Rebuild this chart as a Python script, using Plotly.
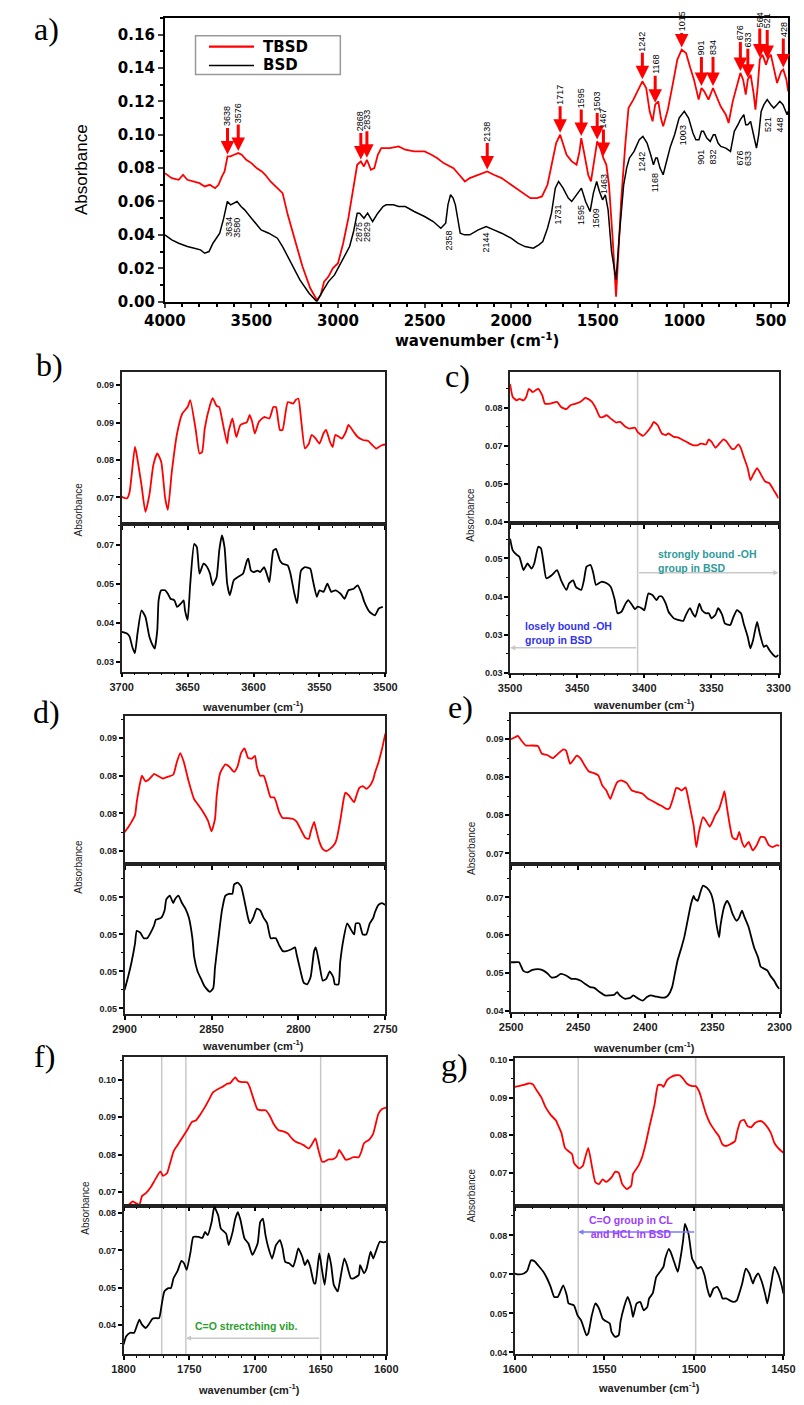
import numpy as np
import plotly.graph_objects as go

W, H = 804, 1405

# ---------------- panel a: full FTIR spectra ----------------
wn_tbsd = [4000, 3960, 3920, 3895, 3870, 3840, 3800, 3770, 3740, 3710,
           3690, 3670, 3655, 3638, 3620, 3600, 3576, 3556, 3530, 3500,
           3470, 3440, 3420, 3390, 3350, 3320, 3290, 3250, 3205, 3160,
           3122, 3100, 3080, 3055, 3030, 3000, 2970, 2940, 2910, 2889,
           2868, 2850, 2833, 2810, 2790, 2770, 2750, 2700, 2650, 2611,
           2560, 2500, 2460, 2428, 2390, 2333, 2300, 2267, 2239, 2190,
           2138, 2100, 2055, 2000, 1961, 1920, 1889, 1850, 1822, 1790,
           1760, 1740, 1717, 1700, 1680, 1650, 1622, 1605, 1595, 1580,
           1555, 1539, 1520, 1503, 1485, 1467, 1450, 1435, 1415, 1394,
           1380, 1365, 1340, 1322, 1294, 1270, 1242, 1220, 1200, 1183,
           1168, 1150, 1135, 1122, 1095, 1067, 1040, 1015, 990, 965,
           944, 917, 901, 885, 860, 834, 817, 790, 760, 744,
           720, 690, 676, 660, 645, 633, 617, 600, 589, 575,
           564, 550, 541, 528, 515, 500, 480, 464, 440, 428,
           410, 400]
abs_tbsd = [0.077, 0.074, 0.073, 0.076, 0.073, 0.072, 0.071, 0.069, 0.070, 0.068,
            0.070, 0.075, 0.078, 0.087, 0.087, 0.088, 0.089, 0.088, 0.085, 0.083,
            0.080, 0.078, 0.076, 0.072, 0.068, 0.065, 0.052, 0.038, 0.021, 0.008,
            0.001, 0.004, 0.012, 0.015, 0.020, 0.023, 0.035, 0.050, 0.068, 0.082,
            0.084, 0.081, 0.085, 0.079, 0.080, 0.088, 0.092, 0.092, 0.093, 0.091,
            0.090, 0.090, 0.088, 0.086, 0.083, 0.080, 0.076, 0.072, 0.074, 0.076,
            0.078, 0.076, 0.074, 0.070, 0.067, 0.064, 0.062, 0.062, 0.063, 0.070,
            0.086, 0.095, 0.100, 0.095, 0.088, 0.084, 0.082, 0.090, 0.098, 0.090,
            0.076, 0.072, 0.085, 0.096, 0.092, 0.086, 0.082, 0.070, 0.040, 0.003,
            0.030, 0.060, 0.095, 0.116, 0.121, 0.126, 0.132, 0.128, 0.114, 0.108,
            0.118, 0.120, 0.110, 0.105, 0.115, 0.130, 0.145, 0.151, 0.149, 0.140,
            0.133, 0.121, 0.128, 0.126, 0.121, 0.128, 0.124, 0.117, 0.112, 0.107,
            0.120, 0.132, 0.137, 0.133, 0.124, 0.133, 0.136, 0.125, 0.115, 0.130,
            0.145, 0.148, 0.146, 0.142, 0.146, 0.148, 0.138, 0.131, 0.138, 0.139,
            0.133, 0.126]

wn_bsd = [4000, 3960, 3920, 3870, 3830, 3794, 3770, 3745, 3722, 3700,
          3683, 3660, 3639, 3620, 3600, 3583, 3560, 3539, 3500, 3470,
          3444, 3400, 3370, 3350, 3320, 3290, 3261, 3220, 3167, 3122,
          3090, 3055, 3020, 2983, 2955, 2933, 2910, 2889, 2875, 2850,
          2829, 2800, 2770, 2740, 2722, 2680, 2650, 2611, 2560, 2500,
          2450, 2406, 2378, 2365, 2350, 2335, 2322, 2305, 2294, 2270,
          2239, 2190, 2144, 2100, 2055, 2000, 1961, 1920, 1872, 1840,
          1817, 1790, 1767, 1745, 1726, 1700, 1670, 1650, 1620, 1594,
          1570, 1544, 1525, 1506, 1490, 1472, 1456, 1440, 1420, 1394,
          1375, 1350, 1333, 1317, 1290, 1260, 1239, 1215, 1194, 1178,
          1165, 1156, 1140, 1122, 1100, 1080, 1056, 1030, 1000, 975,
          950, 933, 915, 901, 889, 870, 850, 832, 822, 805,
          789, 760, 733, 711, 690, 676, 656, 645, 633, 617,
          600, 583, 570, 556, 540, 521, 500, 483, 465, 448,
          430, 406, 400]
abs_bsd = [0.040, 0.037, 0.035, 0.033, 0.032, 0.031, 0.029, 0.030, 0.035, 0.038,
           0.041, 0.050, 0.060, 0.058, 0.059, 0.060, 0.057, 0.055, 0.050, 0.046,
           0.043, 0.041, 0.039, 0.038, 0.033, 0.027, 0.021, 0.013, 0.005, 0.000,
           0.006, 0.012, 0.016, 0.023, 0.028, 0.033, 0.042, 0.053, 0.053, 0.050,
           0.053, 0.048, 0.053, 0.057, 0.058, 0.058, 0.057, 0.057, 0.054, 0.051,
           0.048, 0.044, 0.047, 0.058, 0.064, 0.062, 0.058, 0.048, 0.041, 0.040,
           0.040, 0.043, 0.045, 0.043, 0.041, 0.038, 0.035, 0.033, 0.032, 0.034,
           0.036, 0.044, 0.053, 0.068, 0.072, 0.068, 0.062, 0.060, 0.064, 0.068,
           0.060, 0.054, 0.065, 0.072, 0.066, 0.061, 0.064, 0.055, 0.030, 0.013,
           0.040, 0.070, 0.080, 0.086, 0.090, 0.097, 0.099, 0.095, 0.088, 0.082,
           0.086, 0.086, 0.080, 0.076, 0.085, 0.093, 0.100, 0.110, 0.114, 0.110,
           0.101, 0.097, 0.097, 0.102, 0.102, 0.098, 0.096, 0.100, 0.100, 0.095,
           0.093, 0.092, 0.090, 0.102, 0.106, 0.109, 0.112, 0.106, 0.106, 0.108,
           0.100, 0.092, 0.100, 0.114, 0.118, 0.121, 0.118, 0.116, 0.118, 0.120,
           0.118, 0.112, 0.114]

tbsd_peaks = [3638, 3576, 2868, 2833, 2138, 1717, 1595, 1503, 1467, 1242,
              1168, 1015, 901, 834, 676, 633, 564, 521, 428]
bsd_peaks = [3634, 3580, 2875, 2829, 2358, 2144, 1731, 1595, 1509, 1463,
             1242, 1168, 1003, 901, 832, 676, 633, 521, 448]

# ---------------- panels b-g: zoomed regions ----------------
b_wn_red = [3700, 3696, 3694, 3690, 3689, 3685, 3682, 3679, 3676, 3673,
            3670, 3667, 3665, 3662, 3658, 3654, 3650, 3648, 3644, 3641,
            3639, 3637, 3633, 3631, 3628, 3626, 3624, 3620, 3619, 3616,
            3614, 3613, 3610, 3605, 3603, 3601, 3599, 3596, 3592, 3588,
            3585, 3583, 3580, 3578, 3574, 3570, 3568, 3566, 3564, 3561,
            3558, 3556, 3553, 3550, 3547, 3545, 3542, 3540, 3538, 3535,
            3533, 3530, 3528, 3524, 3521, 3517, 3513, 3510, 3507, 3505,
            3502, 3500]
b_abs_red = [0.0701, 0.0698, 0.0711, 0.0801, 0.0791, 0.0725, 0.0671, 0.0705, 0.0765, 0.0788,
             0.0771, 0.0698, 0.0675, 0.0751, 0.0828, 0.0868, 0.0881, 0.0895, 0.0838, 0.0788,
             0.0791, 0.0838, 0.0885, 0.0899, 0.0883, 0.0881, 0.0858, 0.0808, 0.0831, 0.0858,
             0.0831, 0.0821, 0.0845, 0.0851, 0.0865, 0.0851, 0.0828, 0.0851, 0.0861, 0.0858,
             0.0881, 0.0881, 0.0835, 0.0835, 0.0891, 0.0888, 0.0895, 0.0898, 0.0858, 0.0798,
             0.0808, 0.0825, 0.0818, 0.0808, 0.0828, 0.0835, 0.0811, 0.0801, 0.0825, 0.0821,
             0.0818, 0.0831, 0.0845, 0.0831, 0.0821, 0.0815, 0.0813, 0.0805, 0.0798, 0.0801,
             0.0805, 0.0806]
b_wn_blk = [3700, 3696, 3694, 3692, 3690, 3688, 3685, 3682, 3679, 3676,
            3675, 3673, 3672, 3670, 3667, 3665, 3663, 3660, 3658, 3655,
            3653, 3652, 3650, 3648, 3645, 3643, 3641, 3638, 3636, 3633,
            3631, 3628, 3626, 3624, 3622, 3620, 3618, 3615, 3612, 3608,
            3605, 3604, 3602, 3600, 3597, 3595, 3592, 3590, 3588, 3585,
            3583, 3580, 3578, 3574, 3572, 3569, 3567, 3564, 3561, 3557,
            3555, 3552, 3550, 3547, 3544, 3541, 3538, 3534, 3531, 3528,
            3524, 3521, 3518, 3516, 3512, 3508, 3505, 3502]
b_abs_blk = [0.0397, 0.0392, 0.0382, 0.0350, 0.0329, 0.0392, 0.0466, 0.0445, 0.0382, 0.0350,
             0.0344, 0.0403, 0.0498, 0.0530, 0.0530, 0.0519, 0.0503, 0.0498, 0.0477, 0.0488,
             0.0498, 0.0466, 0.0435, 0.0551, 0.0678, 0.0668, 0.0583, 0.0615, 0.0609, 0.0583,
             0.0546, 0.0572, 0.0657, 0.0705, 0.0668, 0.0551, 0.0514, 0.0562, 0.0572, 0.0583,
             0.0625, 0.0631, 0.0593, 0.0588, 0.0593, 0.0588, 0.0604, 0.0583, 0.0556, 0.0657,
             0.0662, 0.0625, 0.0615, 0.0609, 0.0583, 0.0519, 0.0488, 0.0593, 0.0604, 0.0599,
             0.0562, 0.0509, 0.0530, 0.0525, 0.0551, 0.0525, 0.0530, 0.0519, 0.0503, 0.0530,
             0.0535, 0.0546, 0.0519, 0.0493, 0.0461, 0.0450, 0.0472, 0.0477]

c_wn_red = [3500, 3498, 3495, 3493, 3490, 3488, 3486, 3483, 3481, 3479,
            3476, 3474, 3470, 3465, 3462, 3458, 3455, 3451, 3447, 3444,
            3442, 3439, 3436, 3433, 3431, 3428, 3425, 3421, 3418, 3414,
            3411, 3407, 3405, 3401, 3399, 3395, 3393, 3390, 3387, 3384,
            3382, 3378, 3375, 3371, 3368, 3364, 3360, 3358, 3354, 3352,
            3350, 3347, 3345, 3341, 3339, 3335, 3333, 3330, 3328, 3326,
            3323, 3321, 3319, 3316, 3313, 3310, 3307, 3303, 3300]
c_abs_red = [0.0854, 0.0811, 0.0800, 0.0805, 0.0800, 0.0811, 0.0838, 0.0827, 0.0833, 0.0838,
             0.0816, 0.0789, 0.0789, 0.0795, 0.0778, 0.0771, 0.0784, 0.0789, 0.0797, 0.0808,
             0.0805, 0.0795, 0.0773, 0.0745, 0.0745, 0.0751, 0.0740, 0.0727, 0.0729, 0.0713,
             0.0707, 0.0710, 0.0696, 0.0683, 0.0691, 0.0713, 0.0729, 0.0718, 0.0691, 0.0686,
             0.0691, 0.0680, 0.0678, 0.0669, 0.0662, 0.0653, 0.0653, 0.0658, 0.0655, 0.0672,
             0.0664, 0.0644, 0.0653, 0.0672, 0.0666, 0.0642, 0.0640, 0.0655, 0.0642, 0.0615,
             0.0577, 0.0538, 0.0555, 0.0577, 0.0555, 0.0533, 0.0528, 0.0500, 0.0478]
c_wn_blk = [3500, 3498, 3495, 3493, 3490, 3487, 3484, 3482, 3479, 3477,
            3475, 3473, 3469, 3465, 3462, 3458, 3456, 3453, 3451, 3447,
            3445, 3443, 3440, 3438, 3436, 3432, 3428, 3425, 3422, 3420,
            3417, 3414, 3412, 3409, 3407, 3405, 3402, 3400, 3397, 3394,
            3391, 3389, 3387, 3384, 3382, 3378, 3375, 3371, 3369, 3366,
            3364, 3362, 3359, 3357, 3354, 3352, 3350, 3347, 3345, 3342,
            3340, 3336, 3334, 3331, 3328, 3326, 3323, 3321, 3319, 3316,
            3314, 3311, 3309, 3307, 3304, 3302, 3300]
c_abs_blk = [0.0514, 0.0491, 0.0482, 0.0478, 0.0452, 0.0465, 0.0455, 0.0465, 0.0498, 0.0495,
             0.0465, 0.0436, 0.0442, 0.0452, 0.0432, 0.0413, 0.0426, 0.0432, 0.0419, 0.0413,
             0.0432, 0.0459, 0.0462, 0.0446, 0.0423, 0.0429, 0.0426, 0.0419, 0.0393, 0.0367,
             0.0370, 0.0386, 0.0393, 0.0383, 0.0375, 0.0380, 0.0377, 0.0373, 0.0406, 0.0403,
             0.0393, 0.0400, 0.0400, 0.0386, 0.0370, 0.0357, 0.0354, 0.0352, 0.0364, 0.0377,
             0.0367, 0.0360, 0.0386, 0.0373, 0.0367, 0.0367, 0.0357, 0.0364, 0.0377, 0.0364,
             0.0347, 0.0344, 0.0357, 0.0373, 0.0367, 0.0347, 0.0321, 0.0298, 0.0314, 0.0350,
             0.0327, 0.0301, 0.0304, 0.0295, 0.0285, 0.0281, 0.0285]

d_wn_red = [2900, 2898, 2896, 2894, 2893, 2891, 2890, 2888, 2886, 2884,
            2883, 2881, 2878, 2875, 2872, 2870, 2868, 2866, 2863, 2860,
            2858, 2855, 2852, 2850, 2848, 2847, 2845, 2842, 2840, 2837,
            2835, 2833, 2831, 2829, 2827, 2825, 2824, 2822, 2820, 2818,
            2816, 2814, 2813, 2811, 2809, 2806, 2803, 2801, 2799, 2796,
            2794, 2793, 2791, 2790, 2788, 2786, 2784, 2782, 2779, 2778,
            2776, 2774, 2773, 2771, 2768, 2767, 2765, 2763, 2761, 2759,
            2757, 2756, 2754, 2752, 2750]
d_abs_red = [0.0780, 0.0785, 0.0791, 0.0798, 0.0812, 0.0833, 0.0840, 0.0834, 0.0836, 0.0840,
             0.0842, 0.0840, 0.0837, 0.0839, 0.0841, 0.0854, 0.0864, 0.0855, 0.0833, 0.0815,
             0.0810, 0.0802, 0.0792, 0.0781, 0.0794, 0.0819, 0.0843, 0.0852, 0.0850, 0.0844,
             0.0850, 0.0864, 0.0869, 0.0859, 0.0858, 0.0861, 0.0850, 0.0840, 0.0840, 0.0829,
             0.0817, 0.0817, 0.0813, 0.0801, 0.0795, 0.0795, 0.0794, 0.0791, 0.0784, 0.0774,
             0.0773, 0.0780, 0.0791, 0.0784, 0.0770, 0.0762, 0.0760, 0.0762, 0.0768, 0.0773,
             0.0792, 0.0815, 0.0822, 0.0819, 0.0812, 0.0817, 0.0827, 0.0829, 0.0826, 0.0829,
             0.0836, 0.0843, 0.0854, 0.0868, 0.0885]
d_wn_blk = [2900, 2898, 2896, 2894, 2893, 2891, 2889, 2887, 2885, 2883,
            2882, 2879, 2877, 2876, 2874, 2872, 2871, 2869, 2867, 2865,
            2863, 2861, 2860, 2858, 2856, 2854, 2851, 2849, 2848, 2846,
            2844, 2842, 2840, 2838, 2837, 2835, 2833, 2831, 2829, 2828,
            2826, 2824, 2822, 2820, 2818, 2816, 2814, 2813, 2811, 2809,
            2807, 2804, 2802, 2801, 2799, 2797, 2795, 2793, 2791, 2790,
            2788, 2786, 2784, 2782, 2780, 2779, 2777, 2776, 2774, 2772,
            2770, 2768, 2767, 2765, 2763, 2761, 2759, 2757, 2756, 2754,
            2752, 2750]
d_abs_blk = [0.0490, 0.0497, 0.0505, 0.0515, 0.0522, 0.0521, 0.0518, 0.0518, 0.0521, 0.0525,
             0.0528, 0.0529, 0.0533, 0.0539, 0.0541, 0.0537, 0.0539, 0.0541, 0.0537, 0.0534,
             0.0529, 0.0518, 0.0508, 0.0500, 0.0496, 0.0492, 0.0489, 0.0491, 0.0502, 0.0518,
             0.0533, 0.0541, 0.0542, 0.0542, 0.0547, 0.0548, 0.0546, 0.0538, 0.0529, 0.0526,
             0.0529, 0.0534, 0.0533, 0.0529, 0.0526, 0.0518, 0.0518, 0.0518, 0.0514, 0.0511,
             0.0511, 0.0512, 0.0513, 0.0509, 0.0501, 0.0494, 0.0493, 0.0497, 0.0511, 0.0513,
             0.0504, 0.0495, 0.0496, 0.0500, 0.0497, 0.0493, 0.0493, 0.0505, 0.0518, 0.0526,
             0.0523, 0.0520, 0.0526, 0.0526, 0.0520, 0.0520, 0.0526, 0.0529, 0.0532, 0.0536,
             0.0537, 0.0536]

e_wn_red = [2500, 2497, 2495, 2492, 2489, 2485, 2480, 2477, 2473, 2469,
            2465, 2461, 2459, 2456, 2454, 2451, 2448, 2445, 2442, 2439,
            2435, 2432, 2429, 2426, 2424, 2421, 2418, 2414, 2410, 2407,
            2402, 2398, 2395, 2391, 2388, 2384, 2382, 2379, 2377, 2375,
            2373, 2370, 2369, 2367, 2364, 2362, 2360, 2357, 2355, 2352,
            2350, 2348, 2345, 2342, 2341, 2339, 2337, 2335, 2332, 2330,
            2328, 2326, 2323, 2320, 2317, 2314, 2311, 2308, 2305, 2302, 2300]
e_abs_red = [0.0880, 0.0883, 0.0885, 0.0877, 0.0870, 0.0870, 0.0869, 0.0857, 0.0855, 0.0850,
             0.0857, 0.0864, 0.0862, 0.0841, 0.0846, 0.0854, 0.0849, 0.0838, 0.0829, 0.0827,
             0.0823, 0.0807, 0.0799, 0.0786, 0.0797, 0.0812, 0.0815, 0.0811, 0.0799, 0.0797,
             0.0794, 0.0786, 0.0783, 0.0778, 0.0775, 0.0770, 0.0771, 0.0789, 0.0803, 0.0802,
             0.0799, 0.0804, 0.0797, 0.0776, 0.0744, 0.0710, 0.0734, 0.0757, 0.0752, 0.0742,
             0.0750, 0.0760, 0.0770, 0.0791, 0.0798, 0.0770, 0.0744, 0.0725, 0.0722, 0.0734,
             0.0718, 0.0710, 0.0718, 0.0705, 0.0713, 0.0726, 0.0725, 0.0713, 0.0710, 0.0713, 0.0712]
e_wn_blk = [2500, 2497, 2494, 2491, 2488, 2484, 2480, 2477, 2473, 2470,
            2466, 2463, 2459, 2455, 2452, 2448, 2445, 2441, 2438, 2434,
            2430, 2427, 2423, 2421, 2419, 2415, 2411, 2409, 2405, 2402,
            2399, 2396, 2392, 2389, 2385, 2383, 2380, 2378, 2376, 2373,
            2371, 2369, 2366, 2364, 2363, 2361, 2359, 2357, 2354, 2351,
            2349, 2347, 2345, 2344, 2341, 2339, 2337, 2335, 2332, 2330,
            2328, 2326, 2323, 2321, 2319, 2316, 2314, 2311, 2309, 2307,
            2304, 2302, 2300]
e_abs_blk = [0.0528, 0.0528, 0.0528, 0.0506, 0.0501, 0.0508, 0.0510, 0.0508, 0.0499, 0.0488,
             0.0490, 0.0497, 0.0493, 0.0484, 0.0484, 0.0479, 0.0471, 0.0462, 0.0460, 0.0449,
             0.0440, 0.0440, 0.0442, 0.0449, 0.0440, 0.0431, 0.0434, 0.0440, 0.0431, 0.0426,
             0.0435, 0.0440, 0.0437, 0.0435, 0.0435, 0.0440, 0.0462, 0.0497, 0.0532, 0.0568,
             0.0594, 0.0629, 0.0682, 0.0704, 0.0696, 0.0691, 0.0713, 0.0731, 0.0725, 0.0709,
             0.0682, 0.0629, 0.0594, 0.0625, 0.0678, 0.0691, 0.0678, 0.0656, 0.0638, 0.0647,
             0.0665, 0.0647, 0.0621, 0.0594, 0.0568, 0.0541, 0.0516, 0.0510, 0.0506, 0.0493,
             0.0479, 0.0466, 0.0457]

f_wn_red = [1800, 1796, 1793, 1791, 1788, 1786, 1783, 1779, 1776, 1772,
            1770, 1767, 1765, 1762, 1759, 1755, 1751, 1748, 1745, 1742,
            1738, 1734, 1732, 1728, 1725, 1721, 1719, 1715, 1713, 1710,
            1706, 1704, 1702, 1698, 1695, 1692, 1689, 1686, 1682, 1678,
            1675, 1672, 1669, 1666, 1663, 1659, 1657, 1654, 1652, 1649,
            1647, 1644, 1641, 1638, 1636, 1634, 1631, 1629, 1625, 1621,
            1619, 1617, 1613, 1610, 1608, 1606, 1603, 1600]
f_abs_red = [0.0658, 0.0666, 0.0675, 0.0671, 0.0666, 0.0689, 0.0697, 0.0715, 0.0733, 0.0755,
             0.0743, 0.0750, 0.0772, 0.0808, 0.0825, 0.0847, 0.0869, 0.0887, 0.0891, 0.0905,
             0.0927, 0.0953, 0.0966, 0.0975, 0.0980, 0.0989, 0.0990, 0.1006, 0.0997, 0.0993,
             0.0993, 0.0980, 0.0958, 0.0920, 0.0918, 0.0918, 0.0905, 0.0883, 0.0865, 0.0861,
             0.0856, 0.0843, 0.0834, 0.0830, 0.0825, 0.0816, 0.0825, 0.0843, 0.0816, 0.0781,
             0.0781, 0.0787, 0.0787, 0.0794, 0.0812, 0.0803, 0.0786, 0.0787, 0.0793, 0.0793,
             0.0808, 0.0830, 0.0840, 0.0856, 0.0883, 0.0909, 0.0922, 0.0925]
f_wn_blk = [1800, 1798, 1795, 1792, 1790, 1788, 1786, 1783, 1781, 1778,
            1776, 1773, 1771, 1769, 1766, 1764, 1762, 1759, 1756, 1754,
            1752, 1749, 1747, 1743, 1740, 1738, 1736, 1733, 1731, 1728,
            1726, 1722, 1720, 1717, 1715, 1713, 1711, 1708, 1705, 1702,
            1698, 1696, 1694, 1692, 1690, 1687, 1684, 1681, 1679, 1677,
            1674, 1671, 1669, 1667, 1664, 1662, 1660, 1658, 1655, 1654,
            1651, 1649, 1647, 1644, 1642, 1640, 1637, 1635, 1632, 1630,
            1627, 1625, 1621, 1620, 1617, 1615, 1612, 1610, 1608, 1605,
            1602, 1600]
f_abs_blk = [0.0336, 0.0363, 0.0375, 0.0375, 0.0397, 0.0419, 0.0402, 0.0391, 0.0402, 0.0422,
             0.0424, 0.0424, 0.0469, 0.0513, 0.0524, 0.0524, 0.0557, 0.0581, 0.0615, 0.0607,
             0.0585, 0.0646, 0.0695, 0.0695, 0.0692, 0.0712, 0.0701, 0.0745, 0.0795, 0.0767,
             0.0723, 0.0706, 0.0668, 0.0712, 0.0756, 0.0778, 0.0751, 0.0690, 0.0673, 0.0635,
             0.0673, 0.0745, 0.0756, 0.0701, 0.0662, 0.0623, 0.0668, 0.0684, 0.0657, 0.0612,
             0.0607, 0.0596, 0.0623, 0.0657, 0.0629, 0.0601, 0.0618, 0.0596, 0.0540, 0.0540,
             0.0640, 0.0585, 0.0535, 0.0640, 0.0601, 0.0535, 0.0513, 0.0557, 0.0623, 0.0601,
             0.0557, 0.0557, 0.0568, 0.0601, 0.0574, 0.0590, 0.0646, 0.0623, 0.0646, 0.0679,
             0.0677, 0.0679]

g_wn_red = [1600, 1598, 1595, 1592.5, 1590, 1588, 1585, 1583, 1580, 1577,
            1576, 1574, 1572, 1570, 1568, 1567, 1564, 1562, 1561, 1559,
            1557, 1555, 1553, 1551, 1549, 1546, 1544, 1542, 1540, 1537.5,
            1535, 1534, 1531, 1529, 1527, 1525, 1522, 1520, 1518, 1517,
            1515, 1512.5, 1510, 1508, 1506, 1504, 1501, 1499, 1497, 1495,
            1493, 1491, 1488, 1486, 1484, 1482, 1480, 1477, 1476, 1474,
            1472, 1470, 1468, 1466, 1464, 1462, 1460, 1457, 1455, 1453, 1451, 1450]
g_abs_red = [0.0929, 0.0931, 0.0934, 0.0938, 0.0936, 0.0921, 0.0899, 0.0876, 0.0854, 0.0839,
             0.0828, 0.0806, 0.0766, 0.0757, 0.0749, 0.0726, 0.0711, 0.0718, 0.0735, 0.0766,
             0.0718, 0.0674, 0.0669, 0.0682, 0.0675, 0.0687, 0.0702, 0.0700, 0.0669, 0.0656,
             0.0665, 0.0696, 0.0718, 0.0740, 0.0775, 0.0819, 0.0881, 0.0934, 0.0934, 0.0929,
             0.0947, 0.0956, 0.0960, 0.0960, 0.0951, 0.0938, 0.0931, 0.0931, 0.0916, 0.0885,
             0.0854, 0.0832, 0.0810, 0.0797, 0.0775, 0.0771, 0.0775, 0.0784, 0.0806, 0.0837,
             0.0841, 0.0824, 0.0821, 0.0832, 0.0837, 0.0837, 0.0828, 0.0806, 0.0779, 0.0766, 0.0757, 0.0753]
g_wn_blk = [1600, 1598, 1595, 1593, 1591, 1589, 1587, 1584, 1582, 1580,
            1578, 1576, 1573, 1571, 1570, 1567, 1565, 1563, 1562, 1560,
            1559, 1557, 1555, 1553, 1551, 1550, 1547, 1546, 1544, 1542,
            1541, 1539, 1537, 1535, 1534, 1532, 1530, 1528, 1526, 1525,
            1523, 1521, 1519, 1517, 1516, 1514, 1513, 1511, 1509, 1508,
            1506, 1505, 1503, 1501, 1500, 1498, 1496, 1494, 1492.5, 1491,
            1489, 1487, 1485, 1484, 1482, 1480, 1478, 1476, 1475, 1473,
            1471, 1469, 1467, 1466, 1464, 1462, 1460, 1459, 1457, 1455, 1453, 1451, 1450]
g_abs_blk = [0.0653, 0.0650, 0.0653, 0.0663, 0.0695, 0.0692, 0.0679, 0.0658, 0.0637, 0.0610,
             0.0578, 0.0578, 0.0615, 0.0583, 0.0557, 0.0551, 0.0519, 0.0503, 0.0487, 0.0455,
             0.0461, 0.0519, 0.0557, 0.0541, 0.0509, 0.0503, 0.0493, 0.0466, 0.0450, 0.0455,
             0.0498, 0.0546, 0.0578, 0.0546, 0.0514, 0.0557, 0.0562, 0.0535, 0.0546, 0.0573,
             0.0589, 0.0642, 0.0658, 0.0674, 0.0701, 0.0732, 0.0722, 0.0690, 0.0658, 0.0685,
             0.0759, 0.0812, 0.0780, 0.0701, 0.0690, 0.0669, 0.0674, 0.0647, 0.0605, 0.0578,
             0.0605, 0.0610, 0.0589, 0.0573, 0.0573, 0.0567, 0.0562, 0.0567, 0.0583, 0.0621,
             0.0669, 0.0653, 0.0621, 0.0637, 0.0653, 0.0626, 0.0583, 0.0557, 0.0615, 0.0674,
             0.0653, 0.0615, 0.0589]

# y tick values / labels of the stacked panels (top = TBSD, bottom = BSD)
b_top_ticks, b_top_text = [0.07, 0.0775, 0.085, 0.0925], ["0.07", "0.08", "0.09", "0.09"]
b_bot_ticks, b_bot_text = [0.03, 0.0425, 0.055, 0.0675], ["0.03", "0.04", "0.05", "0.07"]
c_top_ticks, c_top_text = [0.04, 0.0525, 0.065, 0.0775], ["0.04", "0.05", "0.07", "0.08"]
c_bot_ticks, c_bot_text = [0.025, 0.0325, 0.04, 0.0475], ["0.03", "0.03", "0.04", "0.05"]
d_top_ticks, d_top_text = [0.076, 0.080, 0.084, 0.088], ["0.08", "0.08", "0.08", "0.09"]
d_bot_ticks, d_bot_text = [0.048, 0.050, 0.052, 0.054], ["0.05", "0.05", "0.05", "0.05"]
e_top_ticks, e_top_text = [0.070, 0.076, 0.082, 0.088], ["0.07", "0.08", "0.08", "0.09"]
e_bot_ticks, e_bot_text = [0.04, 0.05, 0.06, 0.07], ["0.04", "0.05", "0.06", "0.07"]
f_top_ticks, f_top_text = [0.07, 0.08, 0.09, 0.10], ["0.07", "0.08", "0.09", "0.10"]
f_bot_ticks, f_bot_text = [0.04, 0.0525, 0.065, 0.0775], ["0.04", "0.05", "0.07", "0.08"]
g_top_ticks, g_top_text = [0.07, 0.08, 0.09, 0.10], ["0.07", "0.08", "0.09", "0.10"]
g_bot_ticks, g_bot_text = [0.04, 0.0525, 0.065, 0.0775], ["0.04", "0.05", "0.07", "0.08"]

# ---------------- layout helpers ----------------
FONT = "Liberation Sans"
WIDE = "DejaVu Sans"
RED = "#ff0000"


def px_x(p):
    return p / W


def px_y(p):
    return 1 - p / H


def mids(vals):
    step = vals[1] - vals[0]
    return [vals[0] - step / 2] + [v + step / 2 for v in vals]


panels = [
    dict(letter="b)", lpos=(30, 366), box=(105, 380, 373, 526, 675), xr=[3700, 3500],
         top=([0.0647, 0.0951], b_top_ticks, b_top_text), bot=([0.027, 0.0742], b_bot_ticks, b_bot_text),
         red=(b_wn_red, b_abs_red), blk=(b_wn_blk, b_abs_blk), xt=(242, 710), yt=(60, 512)),
    dict(letter="c)", lpos=(455, 377), box=(510, 790, 373, 525, 676), xr=[3500, 3300],
         top=([0.0397, 0.0893], c_top_ticks, c_top_text), bot=([0.025, 0.0545], c_bot_ticks, c_bot_text),
         red=(c_wn_red, c_abs_red), blk=(c_wn_blk, c_abs_blk), xt=(650, 708), yt=(469, 517)),
    dict(letter="d)", lpos=(27, 716), box=(108, 380, 720, 869, 1020), xr=[2900, 2750],
         top=([0.0746, 0.0903], d_top_ticks, d_top_text), bot=([0.0477, 0.0558], d_bot_ticks, d_bot_text),
         red=(d_wn_red, d_abs_red), blk=(d_wn_blk, d_abs_blk), xt=(242, 1051), yt=(60, 872)),
    dict(letter="e)", lpos=(458, 711), box=(511, 791, 718, 869, 1018), xr=[2500, 2300],
         top=([0.0683, 0.0919], e_top_ticks, e_top_text), bot=([0.0396, 0.0788], e_bot_ticks, e_bot_text),
         red=(e_wn_red, e_abs_red), blk=(e_wn_blk, e_abs_blk), xt=(650, 1053), yt=(470, 853)),
    dict(letter="f)", lpos=(25, 1062), box=(107, 381, 1063, 1213, 1363), xr=[1800, 1600],
         top=([0.0664, 0.1061], f_top_ticks, f_top_text), bot=([0.0303, 0.0800], f_bot_ticks, f_bot_text),
         red=(f_wn_red, f_abs_red), blk=(f_wn_blk, f_abs_blk), xt=(238, 1398), yt=(67, 1215)),
    dict(letter="g)", lpos=(452, 1071), box=(515, 795, 1064, 1213, 1363), xr=[1600, 1450],
         top=([0.0612, 0.1007], g_top_ticks, g_top_text), bot=([0.0394, 0.0871], g_bot_ticks, g_bot_text),
         red=(g_wn_red, g_abs_red), blk=(g_wn_blk, g_abs_blk), xt=(655, 1396), yt=(470, 1203)),
]

fig = go.Figure()
layout = {}
annotations = []
shapes = []


def ann(px, py, text, **kw):
    d = dict(x=px_x(px), y=px_y(py), xref="paper", yref="paper", text=text, showarrow=False,
             xanchor="center", yanchor="middle")
    d.update(kw)
    annotations.append(d)


# ---------------- panel a ----------------
fig.add_trace(go.Scatter(x=wn_tbsd, y=abs_tbsd, name="TBSD", mode="lines", showlegend=False,
                         line=dict(color=RED, width=1.8), xaxis="x", yaxis="y"))
fig.add_trace(go.Scatter(x=wn_bsd, y=abs_bsd, name="BSD", mode="lines", showlegend=False,
                         line=dict(color="black", width=1.5), xaxis="x", yaxis="y"))

main_tick_font = dict(family=WIDE, size=15, color="black", weight="bold")
layout["xaxis"] = dict(
    domain=[px_x(150), px_x(800)], range=[4000, 400], anchor="y",
    tickmode="linear", tick0=500, dtick=500, ticks="outside", ticklen=4, tickwidth=2,
    minor=dict(dtick=100, ticks="outside", ticklen=3, tickwidth=1.5, tickcolor="black"),
    showline=True, linewidth=2, linecolor="black", mirror=True, showgrid=False, zeroline=False,
    tickfont=main_tick_font)
layout["yaxis"] = dict(
    domain=[px_y(302), px_y(16)], range=[0, 0.17], anchor="x",
    tickmode="linear", tick0=0, dtick=0.02, tickformat=".2f", ticks="outside", ticklen=5, tickwidth=2,
    minor=dict(dtick=0.01, ticks="outside", ticklen=3, tickwidth=1.5, tickcolor="black"),
    showline=True, linewidth=2, linecolor="black", mirror=True, showgrid=False, zeroline=False,
    tickfont=main_tick_font)

# red arrows over TBSD peaks
wn_t_inc = np.array(wn_tbsd[::-1], dtype=float)
ab_t_inc = np.array(abs_tbsd[::-1], dtype=float)
for wn in tbsd_peaks:
    tip = float(np.interp(wn, wn_t_inc, ab_t_inc)) + 0.0012
    annotations.append(dict(
        x=wn, y=tip, xref="x", yref="y", text=str(wn), textangle=-90,
        showarrow=True, arrowhead=2, arrowsize=0.9, arrowwidth=3, arrowcolor=RED,
        ax=0, ay=-26 if wn == 1015 else -38, standoff=0,
        font=dict(family=FONT, size=9, color="black")))

# labels under BSD peaks
bsd_label_y = [0.045, 0.044, 0.0415, 0.0415, 0.0367, 0.0356, 0.052, 0.052, 0.050, 0.0705,
               0.084, 0.071, 0.0996, 0.0865, 0.0865, 0.086, 0.086, 0.106, 0.106]
for wn, yl in zip(bsd_peaks, bsd_label_y):
    annotations.append(dict(x=wn, y=yl, xref="x", yref="y", text=str(wn), textangle=-90,
                            showarrow=False, font=dict(family=FONT, size=9, color="black")))

ann(475, 341, "wavenumber (cm<sup>-1</sup>)", font=dict(family=WIDE, size=15, color="black", weight="bold"))
ann(63, 169, "Absorbance", textangle=-90, font=dict(family=FONT, size=17, color="black"))
ann(27, 27, "a)", font=dict(family="Liberation Serif", size=32, color="black"))

# legend box for panel a
shapes.append(dict(type="rect", xref="paper", yref="paper", x0=px_x(182), x1=px_x(333),
                   y0=px_y(73), y1=px_y(34), line=dict(color="#9a9a9a", width=1.5),
                   fillcolor="white"))
for name, color, width, py in (("TBSD", RED, 2.2, 45), ("BSD", "black", 1.6, 64)):
    shapes.append(dict(type="line", xref="paper", yref="paper", x0=px_x(196), x1=px_x(243),
                       y0=px_y(py), y1=px_y(py), line=dict(color=color, width=width)))
    ann(250, py, name, xanchor="left", font=dict(family=WIDE, size=15, color="black", weight="bold"))

# ---------------- panels b-g ----------------
sub_tick_font = dict(family=FONT, size=9, color="#222222", weight="bold")
sub_x_font = dict(family=FONT, size=11, color="#222222", weight="bold")

for i, p in enumerate(panels):
    nt, nb = 2 + 2 * i, 3 + 2 * i
    x0, x1, yt, ym, yb = p["box"]
    xdom = [px_x(x0), px_x(x1)]
    common_x = dict(domain=xdom, range=p["xr"], tickmode="linear", tick0=p["xr"][1], dtick=50,
                    ticks="outside", ticklen=4, tickwidth=1.5, tickcolor="black",
                    minor=dict(dtick=10, ticks="outside", ticklen=2, tickwidth=1, tickcolor="black"),
                    showline=True, linewidth=1.5, linecolor="#222222", mirror=True,
                    showgrid=False, zeroline=False)
    layout[f"xaxis{nt}"] = dict(common_x, anchor=f"y{nt}", showticklabels=False)
    layout[f"xaxis{nb}"] = dict(common_x, anchor=f"y{nb}", showticklabels=True, tickfont=sub_x_font)

    for n, (rng, tv, tt), dom in ((nt, p["top"], [px_y(ym), px_y(yt)]),
                                  (nb, p["bot"], [px_y(yb), px_y(ym)])):
        layout[f"yaxis{n}"] = dict(
            domain=dom, range=rng, anchor=f"x{n}", tickmode="array", tickvals=tv, ticktext=tt,
            ticks="outside", ticklen=4, tickwidth=1.5, tickcolor="black",
            minor=dict(tickvals=mids(tv), ticks="outside", ticklen=2, tickwidth=1, tickcolor="black"),
            showline=True, linewidth=1.5, linecolor="#222222", mirror=True,
            showgrid=False, zeroline=False, tickfont=sub_tick_font)

    fig.add_trace(go.Scatter(x=p["red"][0], y=p["red"][1], mode="lines", showlegend=False,
                             line=dict(color=RED, width=1.8, shape="spline", smoothing=0.5),
                             xaxis=f"x{nt}", yaxis=f"y{nt}"))
    fig.add_trace(go.Scatter(x=p["blk"][0], y=p["blk"][1], mode="lines", showlegend=False,
                             line=dict(color="black", width=1.8, shape="spline", smoothing=0.5),
                             xaxis=f"x{nb}", yaxis=f"y{nb}"))

    ann(p["xt"][0], p["xt"][1], "wavenumber (cm<sup>-1</sup>)",
        font=dict(family=FONT, size=11, color="#222222", weight="bold"))
    ann(p["yt"][0], p["yt"][1], "Absorbance", textangle=-90,
        font=dict(family=FONT, size=10, color="#222222"))
    ann(p["lpos"][0], p["lpos"][1], p["letter"], font=dict(family="Liberation Serif", size=32, color="black"))


# guide lines spanning both halves of a panel
def vline(i, wn, color="#c8c8c8", width=1.5):
    x0, x1, yt, ym, yb = panels[i]["box"]
    nb = 3 + 2 * i
    shapes.append(dict(type="line", xref=f"x{nb}", yref="paper", x0=wn, x1=wn,
                       y0=px_y(yb), y1=px_y(yt), line=dict(color=color, width=width), layer="below"))


vline(1, 3405)
vline(4, 1771)
vline(4, 1752.6)
vline(4, 1650)
vline(5, 1564.6)
vline(5, 1499)


def span_arrow(i, x_tip, x_tail, yv, color):
    nb = 3 + 2 * i
    annotations.append(dict(x=x_tip, y=yv, ax=x_tail, ay=yv, xref=f"x{nb}", yref=f"y{nb}",
                            axref=f"x{nb}", ayref=f"y{nb}", text="", showarrow=True,
                            arrowhead=2, arrowsize=0.7, arrowwidth=1.5, arrowcolor=color))


label_font = dict(family=FONT, size=10.5, weight="bold")
span_arrow(1, 3300, 3405, 0.0447, "#c8c8c8")
ann(662, 563, "strongly bound -OH<br>group in BSD", xanchor="left", align="left",
    font=dict(label_font, color="#2f9a9a"))
span_arrow(1, 3500, 3405, 0.0299, "#c8c8c8")
ann(523, 636, "losely bound -OH<br>group in BSD", xanchor="left", align="left",
    font=dict(label_font, color="#3333ee"))
span_arrow(4, 1752.6, 1650, 0.0357, "#c8c8c8")
ann(179, 1334, "C=O strectching vib.", xanchor="left", font=dict(label_font, color="#2ca02c"))
span_arrow(5, 1564.6, 1499, 0.0786, "#7b7bff")
ann(636, 1235, "C=O group in CL<br>and HCL in BSD", font=dict(label_font, color="#9b40ff"))

layout.update(
    width=W, height=H, autosize=False,
    margin=dict(l=0, r=0, t=0, b=0),
    paper_bgcolor="white", plot_bgcolor="white",
    showlegend=False,
    annotations=annotations, shapes=shapes,
)
fig.update_layout(**layout)
fig.write_html("out.html")
